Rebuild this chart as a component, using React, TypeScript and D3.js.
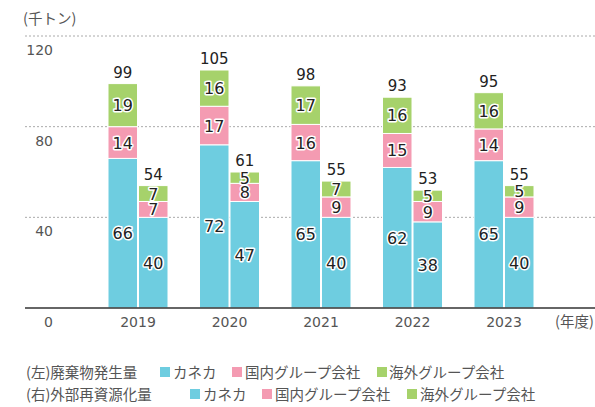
import React from "react";
import * as d3 from "d3";

const years = ["2019", "2020", "2021", "2022", "2023"];
const wasteKaneka = [66, 72, 65, 62, 65];
const wasteDomestic = [14, 17, 16, 15, 14];
const wasteOverseas = [19, 16, 17, 16, 16];
const wasteTotal = [99, 105, 98, 93, 95];
const recycleKaneka = [40, 47, 40, 38, 40];
const recycleDomestic = [7, 8, 9, 9, 9];
const recycleOverseas = [7, 5, 7, 5, 5];
const recycleTotal = [54, 61, 55, 53, 55];
const yTicks = [0, 40, 80, 120];
const seriesNames = ["カネカ", "国内グループ会社", "海外グループ会社"];
const colors = ["#6ecde0", "#f49bb2", "#a6d26b"];

const W = 595;
const H = 407;
const FONT = "'Noto Sans CJK JP', 'Noto Sans', sans-serif";
const NUM = "'DejaVu Sans', sans-serif";

export default function App() {
  const x = d3.scaleBand<string>().domain(years).range([92.25, 549.75]).paddingInner(0).paddingOuter(0);
  const y = d3.scaleLinear().domain([0, 120]).range([308, 36]);
  const barW = 29.5;
  const gap = 1;

  const groups = [
    { data: [wasteKaneka, wasteDomestic, wasteOverseas], totals: wasteTotal, offset: -barW - gap / 2 },
    { data: [recycleKaneka, recycleDomestic, recycleOverseas], totals: recycleTotal, offset: gap / 2 },
  ];

  const labelStyle: React.CSSProperties = {
    fontFamily: NUM,
    fontSize: 16,
    fill: "#222",
    stroke: "#fff",
    strokeWidth: 3,
    paintOrder: "stroke",
    strokeLinejoin: "round",
  };

  const legendRows = [
    { title: "(左)廃棄物発生量", cy: 372, swX: [160, 232, 377], txX: [173, 245, 389] },
    { title: "(右)外部再資源化量", cy: 394, swX: [190, 262, 407], txX: [203, 275, 420] },
  ];

  return (
    <svg width={W} height={H} style={{ position: "absolute", left: 0, top: 0 }}>
      <rect width={W} height={H} fill="#fff" />
      <text x={23} y={24} fontFamily={FONT} fontSize={14.5} fill="#555">(千トン)</text>
      {yTicks.filter((t) => t > 0).map((t) => (
        <line key={t} x1={25} x2={W} y1={y(t)} y2={y(t)} stroke="#aaa" strokeDasharray="2,2" strokeWidth={1} />
      ))}
      {yTicks.map((t) => (
        <text key={"l" + t} x={53} y={y(t) + 19} textAnchor="end" fontFamily={NUM} fontSize={14} fill="#555">
          {t}
        </text>
      ))}
      {years.map((yr, i) => {
        const cx = (x(yr) as number) + x.bandwidth() / 2;
        return groups.map((g, gi) => {
          const bx = cx + g.offset;
          let cum = 0;
          const segs = g.data.map((arr, si) => {
            const v = arr[i];
            const y0 = y(cum);
            const y1 = y(cum + v);
            cum += v;
            return { v, y0, y1, si };
          });
          return (
            <g key={yr + gi}>
              {segs.map((s) => (
                <rect key={s.si} x={bx} y={s.y1} width={barW} height={s.y0 - s.y1} fill={colors[s.si]} stroke="#fff" strokeWidth={1} />
              ))}
              {segs.map((s) => (
                <text key={"t" + s.si} x={bx + barW / 2} y={(s.y0 + s.y1) / 2 + 6} textAnchor="middle" style={labelStyle}>
                  {s.v}
                </text>
              ))}
              <text x={bx + barW / 2} y={y(cum) - 6} textAnchor="middle" fontFamily={NUM} fontSize={15} fill="#222">
                {g.totals[i]}
              </text>
            </g>
          );
        });
      })}
      <line x1={25} x2={W} y1={y(0)} y2={y(0)} stroke="#333" strokeWidth={1.5} />
      {years.map((yr) => (
        <text key={"x" + yr} x={(x(yr) as number) + x.bandwidth() / 2} y={327} textAnchor="middle" fontFamily={NUM} fontSize={14} fill="#555">
          {yr}
        </text>
      ))}
      <text x={555} y={327} fontFamily={FONT} fontSize={14.5} fill="#555">(年度)</text>
      {legendRows.map((r) => (
        <g key={r.title}>
          <text x={26} y={r.cy + 5.5} fontFamily={FONT} fontSize={14.5} fill="#555">{r.title}</text>
          {seriesNames.map((n, si) => (
            <g key={n}>
              <rect x={r.swX[si]} y={r.cy - 5} width={10} height={10} fill={colors[si]} />
              <text x={r.txX[si]} y={r.cy + 5.5} fontFamily={FONT} fontSize={14.5} fill="#555">{n}</text>
            </g>
          ))}
        </g>
      ))}
    </svg>
  );
}
